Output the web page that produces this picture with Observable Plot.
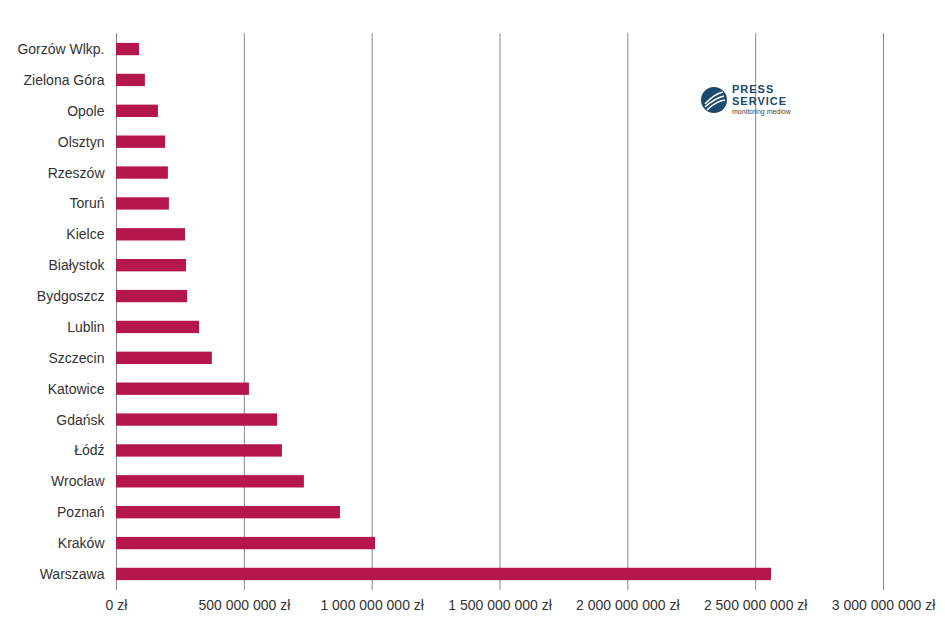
<!DOCTYPE html>
<html><head><meta charset="utf-8">
<script src="https://cdn.jsdelivr.net/npm/d3@7"></script>
<script src="https://cdn.jsdelivr.net/npm/@observablehq/plot@0.6"></script>
<style>body{margin:0;background:#fff;font-family:"Liberation Sans",Arial,sans-serif}#wrap{position:relative;width:945px;height:634px}
#logo{position:absolute;left:700px;top:83px;display:flex;align-items:center;gap:4px}
</style></head><body><div id="wrap"><div id="logo">
<svg width="28" height="28" viewBox="0 0 28 28"><circle cx="14" cy="14" r="13" fill="#1b4a6e"/><path d="M5 18 Q14 8 23 6 M5 21 Q15 12 24 10 M7 24 Q16 15 25 14" stroke="#fff" stroke-width="1.6" fill="none"/></svg>
<div style="line-height:12px;color:#1b4a6e"><div style="font-weight:bold;font-size:11px;letter-spacing:1px">PRESS</div><div style="font-weight:bold;font-size:11px;letter-spacing:1px">SERVICE</div><div style="font-size:7px;line-height:9px;color:#444">monitoring mediów</div></div></div></div>
<script>
const cities = ["Gorzów Wlkp.","Zielona Góra","Opole","Olsztyn","Rzeszów","Toruń","Kielce","Białystok","Bydgoszcz","Lublin","Szczecin","Katowice","Gdańsk","Łódź","Wrocław","Poznań","Kraków","Warszawa"];
const values = [90e6,113e6,164e6,192e6,203e6,207e6,270e6,274e6,278e6,325e6,375e6,520e6,630e6,649e6,735e6,876e6,1013e6,2562e6];
const ticks = [0,5e8,1e9,1.5e9,2e9,2.5e9,3e9];
const data = cities.map((c,i)=>({city:c,value:values[i]}));
const fmt = v => d3.format(",")(v).replace(/,/g," ") + " zł";
const chart = Plot.plot({
  width:945,height:634,marginLeft:116,marginRight:62,marginTop:33,marginBottom:44,
  style:{fontFamily:"Liberation Sans, Arial, sans-serif",fontSize:"14px",color:"#333"},
  x:{domain:[0,3e9],ticks:ticks,tickFormat:fmt,label:null},
  y:{domain:cities,label:null,paddingInner:0.6,paddingOuter:0.32,round:false},
  marks:[
    Plot.ruleX(ticks,{stroke:"#888",strokeWidth:1}),
    Plot.barX(data,{y:"city",x:"value",fill:"#b5174b"}),
    Plot.axisX({ticks:ticks,tickFormat:fmt,tickSize:0,tickPadding:10,label:null,fontSize:14}),
    Plot.axisY({tickSize:0,tickPadding:12,label:null,fontSize:14})
  ]
});
document.getElementById("wrap").prepend(chart);
</script></body></html>
